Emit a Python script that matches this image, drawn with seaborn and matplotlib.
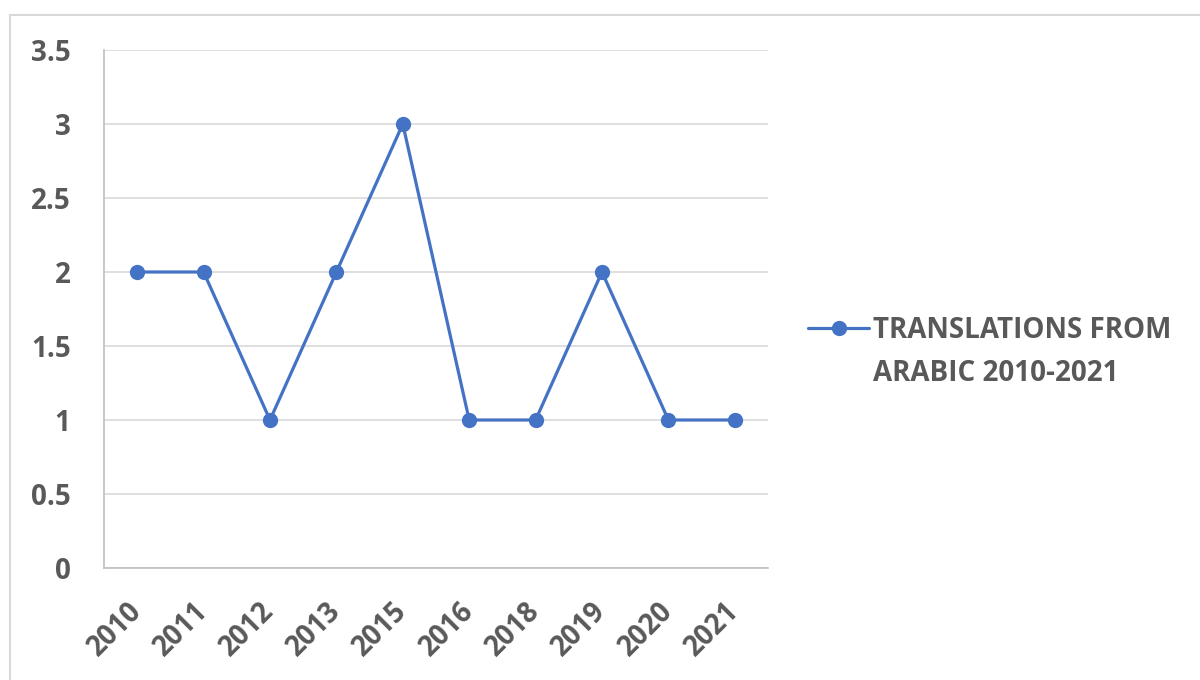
import matplotlib
matplotlib.use("Agg")
import matplotlib.pyplot as plt
from matplotlib.patches import Rectangle
from matplotlib.ticker import FixedLocator
import pandas as pd
import seaborn as sns

# Chart data
years = ["2010", "2011", "2012", "2013", "2015", "2016", "2018", "2019", "2020", "2021"]
translations = [2, 2, 1, 2, 3, 1, 1, 2, 1, 1]
label_line1 = "TRANSLATIONS FROM"
label_line2 = "ARABIC 2010-2021"
y_ticks = [0, 0.5, 1, 1.5, 2, 2.5, 3, 3.5]
y_tick_labels = ["0", "0.5", "1", "1.5", "2", "2.5", "3", "3.5"]

df = pd.DataFrame({"Year": years, "Count": translations})

sns.set_style("white")
plt.rcParams["font.family"] = ["Open Sans", "DejaVu Sans"]
plt.rcParams["font.weight"] = "bold"

text_color = "#595959"
line_color = "#4472C4"
fsize = 20

fig = plt.figure(figsize=(12, 6.8), dpi=100)
ax = fig.add_axes([104 / 1200, 1 - 568 / 680, 664 / 1200, 518 / 680])

# outer chart frame
fig.patches.append(Rectangle((10 / 1200, -0.1), 1.2, 1 - 15 / 680 + 0.1,
                             transform=fig.transFigure, fill=False,
                             edgecolor="#D9D9D9", linewidth=1.5))

sns.lineplot(data=df, x="Year", y="Count", ax=ax, color=line_color,
             linewidth=2.3, marker="o", markersize=11, markeredgewidth=0,
             label=label_line1, sort=False)

ax.set_xlim(-0.5, len(years) - 0.5)
ax.set_ylim(0, 3.5)
ax.set_yticks(y_ticks)
ax.set_yticklabels(y_tick_labels)
ax.set_xticks(range(len(years)))
ax.set_xticklabels(years)
ax.xaxis.set_minor_locator(FixedLocator([i - 0.5 for i in range(len(years) + 1)]))

ax.grid(axis="y", color="#D9D9D9", linewidth=1.2)
ax.set_axisbelow(True)
for side in ["top", "right"]:
    ax.spines[side].set_visible(False)
for side in ["left", "bottom"]:
    ax.spines[side].set_color("#BFBFBF")
    ax.spines[side].set_linewidth(1.2)

ax.tick_params(axis="y", length=8, width=1.2, color="#D9D9D9", pad=16,
               labelsize=fsize, labelcolor=text_color)
ax.tick_params(axis="x", which="major", length=0, pad=28,
               labelsize=fsize, labelcolor=text_color)
ax.tick_params(axis="x", which="minor", length=8, width=1.2, color="#BFBFBF")
for lbl in ax.get_xticklabels():
    lbl.set_rotation(45)
    lbl.set_ha("right")
    lbl.set_va("center")
    lbl.set_rotation_mode("anchor")
    lbl.set_fontweight("bold")
for lbl in ax.get_yticklabels():
    lbl.set_fontweight("bold")

ax.set_xlabel("")
ax.set_ylabel("")

leg = ax.legend(loc="center left", bbox_to_anchor=(783 / 1200, 350 / 680),
                bbox_transform=fig.transFigure, frameon=False,
                fontsize=fsize, handlelength=2.2, handletextpad=0.15,
                labelcolor=text_color)
for t in leg.get_texts():
    t.set_fontweight("bold")

# second line of the legend label, aligned under the first
fig.canvas.draw()
bb = leg.get_texts()[0].get_window_extent().transformed(fig.transFigure.inverted())
fig.text(bb.x0, bb.y0 - 0.021, label_line2, ha="left", va="top",
         fontsize=fsize, fontweight="bold", color=text_color)

fig.savefig("out.png", dpi=100, facecolor="white")
